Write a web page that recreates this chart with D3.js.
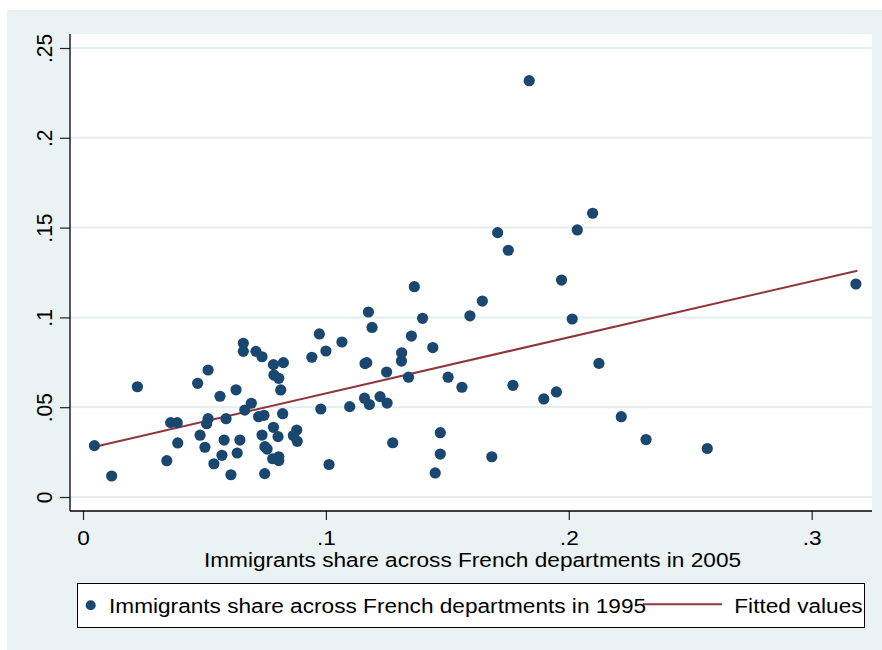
<!DOCTYPE html>
<html>
<head>
<meta charset="utf-8">
<script src="https://cdn.jsdelivr.net/npm/d3@7"></script>
<style>
    body { margin: 0; background: #ffffff; }
    text { font-family: "Liberation Sans", Arial, sans-serif; fill: #000; }
</style>
</head>
<body>
<div id="chart"></div>
<script>
// Immigrants share by department, 2005 (x) and 1995 (y)
const share2005 = [
    0.0047, 0.0118, 0.0224, 0.0345, 0.0361, 0.0388, 0.0390, 0.0472, 0.0515, 0.0482,
    0.0502, 0.0515, 0.0509, 0.0539, 0.0564, 0.0572, 0.0581, 0.0589, 0.0609, 0.0630,
    0.0635, 0.0646, 0.0660, 0.0660, 0.0666, 0.0693, 0.0712, 0.0737, 0.0723, 0.0745,
    0.0737, 0.0748, 0.0749, 0.0758, 0.0784, 0.0825, 0.0786, 0.0806, 0.0814, 0.0822,
    0.0784, 0.0803, 0.0781, 0.0806, 0.0806, 0.0880, 0.0866, 0.0882, 0.0973, 0.0942,
    0.1000, 0.1066, 0.0979, 0.1013, 0.1098, 0.1175, 0.1190, 0.1161, 0.1168, 0.1159,
    0.1179, 0.1223, 0.1252, 0.1250, 0.1275, 0.1312, 0.1311, 0.1352, 0.1340, 0.1398,
    0.1440, 0.1471, 0.1471, 0.1450, 0.1503, 0.1560, 0.1593, 0.1644, 0.1683, 0.1364,
    0.1837, 0.2098, 0.2035, 0.1707, 0.1751, 0.1970, 0.2014, 0.2124, 0.1770, 0.1897,
    0.1949, 0.2216, 0.2318, 0.2570, 0.3182
];
const share1995 = [
    0.0286, 0.0117, 0.0614, 0.0202, 0.0414, 0.0414, 0.0301, 0.0633, 0.0707, 0.0344,
    0.0277, 0.0436, 0.0408, 0.0185, 0.0561, 0.0232, 0.0317, 0.0436, 0.0124, 0.0597,
    0.0245, 0.0317, 0.0856, 0.0811, 0.0484, 0.0522, 0.0811, 0.0781, 0.0447, 0.0455,
    0.0345, 0.0130, 0.0280, 0.0267, 0.0737, 0.0748, 0.0679, 0.0661, 0.0596, 0.0464,
    0.0388, 0.0336, 0.0213, 0.0224, 0.0203, 0.0373, 0.0342, 0.0310, 0.0908, 0.0778,
    0.0813, 0.0863, 0.0490, 0.0181, 0.0503, 0.1030, 0.0944, 0.0743, 0.0748, 0.0550,
    0.0515, 0.0559, 0.0523, 0.0696, 0.0302, 0.0803, 0.0757, 0.0896, 0.0667, 0.0995,
    0.0832, 0.0358, 0.0239, 0.0134, 0.0667, 0.0611, 0.1009, 0.1091, 0.0224, 0.1171,
    0.2318, 0.1580, 0.1487, 0.1472, 0.1374, 0.1208, 0.0991, 0.0744, 0.0622, 0.0546,
    0.0585, 0.0447, 0.0320, 0.0270, 0.1186
];

// Fitted values, end points of the line
const fitX = [0.0049, 0.3188];
const fitY = [0.0280, 0.1260];

const xTicks = [0, 0.1, 0.2, 0.3];
const yTicks = [0, 0.05, 0.1, 0.15, 0.2, 0.25];

const xTitle = "Immigrants share across French departments in 2005";
const legendLabels = ["Immigrants share across French departments in 1995", "Fitted values"];

const width = 882;
const height = 650;
const plot = {left: 70, right: 872, top: 34, bottom: 511};
const navy = "#1a476f";
const maroon = "#90353b";
const bgColor = "#eaf2f3";
const stretch = 1.078;

// Stata style tick labels: 0, .05, .1 ...
function tickLabel(d) {
    return d === 0 ? "0" : String(+d.toFixed(2)).replace(/^0\./, ".");
}

let svg = d3.select("#chart")
    .append("svg")
    .attr("width", width)
    .attr("height", height);

// Graph region and plot region
svg.append("rect")
    .attr("x", 7)
    .attr("y", 10)
    .attr("width", width - 7)
    .attr("height", height - 10)
    .attr("fill", bgColor);

svg.append("rect")
    .attr("x", plot.left)
    .attr("y", plot.top)
    .attr("width", plot.right - plot.left)
    .attr("height", plot.bottom - plot.top)
    .attr("fill", "#ffffff");

// Scales
let xScale = d3.scaleLinear()
    .domain([0, 0.3])
    .range([83, 811.7]);

let yScale = d3.scaleLinear()
    .domain([0, 0.25])
    .range([497, 48]);

// Grid lines
svg.selectAll(".grid")
    .data(yTicks)
    .enter()
    .append("line")
        .attr("class", "grid")
        .attr("x1", plot.left)
        .attr("x2", plot.right)
        .attr("y1", function(d) { return yScale(d); })
        .attr("y2", function(d) { return yScale(d); })
        .attr("stroke", "#e4edef")
        .attr("stroke-width", 2);

// Axes
const xAxis = svg.append("g")
    .attr("transform", `translate(0,${plot.bottom})`)
    .call(d3.axisBottom(xScale)
        .tickValues(xTicks)
        .tickFormat(tickLabel)
        .tickSize(9)
        .tickSizeOuter(0));

xAxis.select(".domain").remove();
xAxis.selectAll(".tick line").attr("stroke", "#222").attr("stroke-width", 1.2);
xAxis.selectAll(".tick text")
    .attr("y", 34)
    .attr("dy", 0)
    .attr("font-size", 21)
    .attr("fill", "#000")
    .attr("transform", `scale(${stretch},1)`);

const yAxis = svg.append("g")
    .attr("transform", `translate(${plot.left},0)`)
    .call(d3.axisLeft(yScale)
        .tickValues(yTicks)
        .tickFormat(tickLabel)
        .tickSize(10)
        .tickSizeOuter(0));

yAxis.select(".domain").remove();
yAxis.selectAll(".tick line").attr("stroke", "#222").attr("stroke-width", 1.2);
yAxis.selectAll(".tick text")
    .attr("x", 0)
    .attr("y", 0)
    .attr("dy", 0)
    .attr("font-size", 21)
    .attr("fill", "#000")
    .attr("text-anchor", "middle")
    .attr("transform", `translate(-18,0) scale(${stretch},1) rotate(-90)`);

// Axis lines
svg.append("line")
    .attr("x1", plot.left)
    .attr("x2", plot.left)
    .attr("y1", plot.top)
    .attr("y2", plot.bottom)
    .attr("stroke", "#000")
    .attr("stroke-width", 1.3);

svg.append("line")
    .attr("x1", plot.left)
    .attr("x2", plot.right)
    .attr("y1", plot.bottom)
    .attr("y2", plot.bottom)
    .attr("stroke", "#000")
    .attr("stroke-width", 1.3);

// Fitted line
const fitData = fitX.map(function(d, i) { return {x: d, y: fitY[i]}; });

svg.append("path")
    .datum(fitData)
    .attr("fill", "none")
    .attr("stroke", maroon)
    .attr("stroke-width", 2)
    .attr("d", d3.line()
        .x(function(d) { return xScale(d.x); })
        .y(function(d) { return yScale(d.y); }));

// Points
const points = share2005.map(function(d, i) { return {x: d, y: share1995[i]}; });

svg.selectAll(".dot")
    .data(points)
    .enter()
    .append("circle")
        .attr("class", "dot")
        .attr("cx", function(d) { return xScale(d.x); })
        .attr("cy", function(d) { return yScale(d.y); })
        .attr("r", 5.6)
        .attr("fill", navy);

// X axis title
svg.append("g")
    .attr("transform", `translate(472.5,566.7) scale(${stretch},1)`)
    .append("text")
        .attr("text-anchor", "middle")
        .attr("font-size", 21)
        .text(xTitle);

// Legend
svg.append("rect")
    .attr("x", 77.5)
    .attr("y", 583.5)
    .attr("width", 787)
    .attr("height", 44)
    .attr("fill", "#ffffff")
    .attr("stroke", "#000")
    .attr("stroke-width", 1);

svg.append("circle")
    .attr("cx", 90.7)
    .attr("cy", 605.3)
    .attr("r", 5)
    .attr("fill", navy);

svg.append("line")
    .attr("x1", 643)
    .attr("x2", 722)
    .attr("y1", 604.3)
    .attr("y2", 604.3)
    .attr("stroke", maroon)
    .attr("stroke-width", 2);

svg.append("g")
    .attr("transform", `translate(109,613.3) scale(${stretch},1)`)
    .append("text")
        .attr("font-size", 21)
        .text(legendLabels[0]);

svg.append("g")
    .attr("transform", `translate(734.3,613.3) scale(${stretch},1)`)
    .append("text")
        .attr("font-size", 21)
        .text(legendLabels[1]);
</script>
</body>
</html>
